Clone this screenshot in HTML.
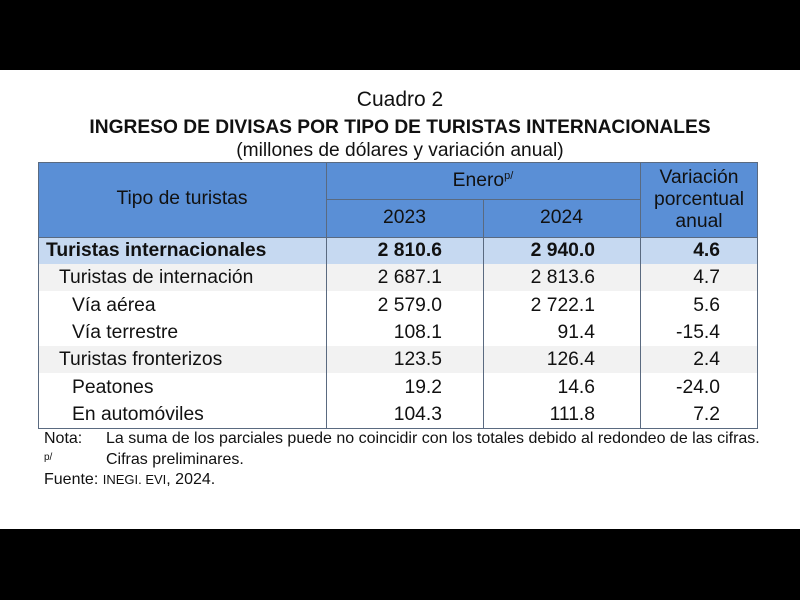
<!DOCTYPE html>
<html><head><meta charset="utf-8"><style>
*{margin:0;padding:0;box-sizing:border-box}
body{width:800px;height:600px;background:#fff;position:relative;overflow:hidden;font-family:"Liberation Sans",Arial,sans-serif;color:#111}
.bar{position:absolute;left:0;width:800px;background:#000}
.a{position:absolute;white-space:nowrap}
.c{text-align:center}
.r{text-align:right}
.row{position:absolute;left:38px;width:720px;height:27px}
.t{position:absolute;font-size:19.3px;line-height:27px;white-space:nowrap}
.vl{position:absolute;width:1px;background:#5a6a80}
.hl{position:absolute;height:1px;background:#5a6a80}
.h{font-size:19.3px}
</style></head><body>
<div class="bar" style="top:0;height:70px"></div>
<div class="bar" style="top:529px;height:71px"></div>

<div class="a c" style="left:0;width:800px;top:88px;font-size:21px">Cuadro 2</div>
<div class="a c" style="left:0;width:800px;top:117px;font-size:19.2px;font-weight:bold;line-height:22px">INGRESO DE DIVISAS POR TIPO DE TURISTAS INTERNACIONALES</div>
<div class="a c" style="left:0;width:800px;top:140px;font-size:19.2px;line-height:22px">(millones de dólares y variación anual)</div>

<div style="position:absolute;left:38px;top:162px;width:720px;height:75px;background:#5a8fd6"></div>
<div class="row" style="top:237px;background:#c6d9f1"></div>
<div class="row" style="top:264px;background:#f2f2f2"></div>
<div class="row" style="top:346px;background:#f2f2f2"></div>

<div class="a c h" style="left:38px;width:288px;top:188px">Tipo de turistas</div>
<div class="a c h" style="left:326px;width:314px;top:170px">Enero<sup style="font-size:11px;vertical-align:7px">p/</sup></div>
<div class="a c h" style="left:326px;width:157px;top:207px">2023</div>
<div class="a c h" style="left:483px;width:157px;top:207px">2024</div>
<div class="a c h" style="left:640px;width:118px;top:167px;line-height:22px">Variación<br>porcentual<br>anual</div>

<div class="hl" style="left:38px;top:162px;width:720px"></div>
<div class="hl" style="left:326px;top:199px;width:314px"></div>
<div class="hl" style="left:38px;top:237px;width:720px"></div>
<div class="hl" style="left:38px;top:428px;width:720px"></div>
<div class="vl" style="left:38px;top:162px;height:267px"></div>
<div class="vl" style="left:757px;top:162px;height:267px"></div>
<div class="vl" style="left:326px;top:162px;height:267px"></div>
<div class="vl" style="left:483px;top:199px;height:230px"></div>
<div class="vl" style="left:640px;top:162px;height:267px"></div>

<div style="position:absolute;left:0;top:237px;width:800px">
<div class="t" style="left:46px;top:0;font-weight:bold">Turistas internacionales</div>
<div class="t r" style="left:300px;width:142px;top:0;font-weight:bold">2 810.6</div>
<div class="t r" style="left:450px;width:145px;top:0;font-weight:bold">2 940.0</div>
<div class="t r" style="left:640px;width:80px;top:0;font-weight:bold">4.6</div>

<div class="t" style="left:59px;top:27px">Turistas de internación</div>
<div class="t r" style="left:300px;width:142px;top:27px">2 687.1</div>
<div class="t r" style="left:450px;width:145px;top:27px">2 813.6</div>
<div class="t r" style="left:640px;width:80px;top:27px">4.7</div>

<div class="t" style="left:72px;top:55px">Vía aérea</div>
<div class="t r" style="left:300px;width:142px;top:55px">2 579.0</div>
<div class="t r" style="left:450px;width:145px;top:55px">2 722.1</div>
<div class="t r" style="left:640px;width:80px;top:55px">5.6</div>

<div class="t" style="left:72px;top:82px">Vía terrestre</div>
<div class="t r" style="left:300px;width:142px;top:82px">108.1</div>
<div class="t r" style="left:450px;width:145px;top:82px">91.4</div>
<div class="t r" style="left:640px;width:80px;top:82px">-15.4</div>

<div class="t" style="left:59px;top:109px">Turistas fronterizos</div>
<div class="t r" style="left:300px;width:142px;top:109px">123.5</div>
<div class="t r" style="left:450px;width:145px;top:109px">126.4</div>
<div class="t r" style="left:640px;width:80px;top:109px">2.4</div>

<div class="t" style="left:72px;top:137px">Peatones</div>
<div class="t r" style="left:300px;width:142px;top:137px">19.2</div>
<div class="t r" style="left:450px;width:145px;top:137px">14.6</div>
<div class="t r" style="left:640px;width:80px;top:137px">-24.0</div>

<div class="t" style="left:72px;top:164px">En automóviles</div>
<div class="t r" style="left:300px;width:142px;top:164px">104.3</div>
<div class="t r" style="left:450px;width:145px;top:164px">111.8</div>
<div class="t r" style="left:640px;width:80px;top:164px">7.2</div>
</div>

<div class="a" style="left:44px;top:430px;font-size:16px">Nota:</div>
<div class="a" style="left:106px;top:430px;font-size:16px">La suma de los parciales puede no coincidir con los totales debido al redondeo de las cifras.</div>
<div class="a" style="left:44px;top:452px;font-size:10px">p/</div>
<div class="a" style="left:106px;top:451px;font-size:16px">Cifras preliminares.</div>
<div class="a" style="left:44px;top:471px;font-size:16px">Fuente: <span style="font-size:13px">INEGI. EVI</span>, 2024.</div>
</body></html>
